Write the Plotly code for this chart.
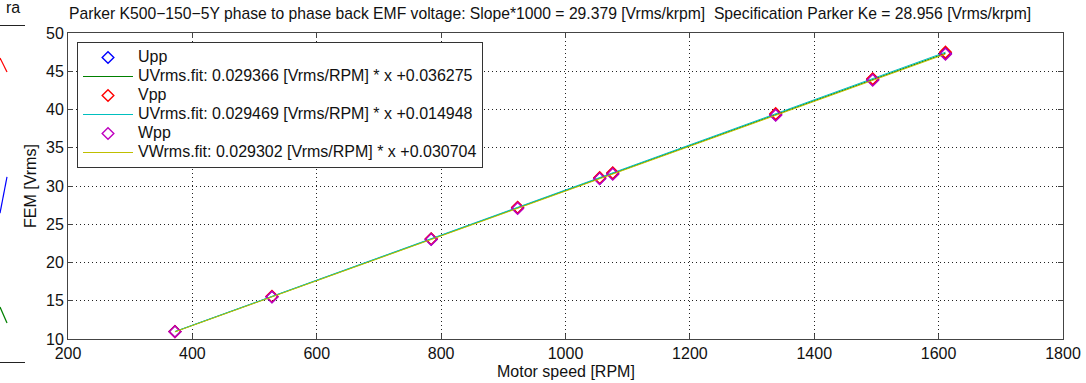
import plotly.graph_objects as go

# Measured operating points (motor speed, RPM)
speed_rpm = [372, 528, 784, 923, 1055, 1076, 1338, 1494, 1611]

# Phase-to-phase back EMF per phase pair [Vrms]
u_vrms = [10.98, 15.52, 23.05, 27.16, 31.00, 31.65, 39.31, 43.93, 47.34]
v_vrms = [10.97, 15.58, 23.10, 27.22, 31.09, 31.73, 39.45, 44.02, 47.50]
w_vrms = [10.95, 15.49, 23.01, 27.07, 30.95, 31.55, 39.25, 43.83, 47.23]

# Linear fit coefficients (slope [Vrms/RPM], offset [Vrms])
fit_names = ["UVrms.fit", "UVrms.fit", "VWrms.fit"]
fit_slopes = [0.029366, 0.029469, 0.029302]
fit_offsets = [0.036275, 0.014948, 0.030704]

# Fragments of the neighbouring panel on the left edge
left_x = [0.0, 0.28]
left_red = [0.905, 0.863]
left_blue = [0.443, 0.551]
left_green = [0.164, 0.116]

W, H = 1086, 383
FONT = "Liberation Sans, Arial, sans-serif"
NARROW = "Liberation Sans Narrow, Arial Narrow, Liberation Sans, sans-serif"

def px(x):
    return x / W

def py(y):
    return 1 - y / H

def legend_label(text):
    # larger glyphs than the legend's base font, keeping the compact row spacing
    return f'<span style="font-size:16px">{text}</span>'

fig = go.Figure()

series = [
    ("Upp", u_vrms, "#0000ff", "#008000"),
    ("Vpp", v_vrms, "#ff0000", "#00bfbf"),
    ("Wpp", w_vrms, "#bf00bf", "#bfbf00"),
]

for (name, vals, mcol, lcol), fname, k, b in zip(series, fit_names, fit_slopes, fit_offsets):
    fig.add_trace(go.Scatter(
        x=speed_rpm, y=vals, mode="markers", name=legend_label(name),
        marker=dict(symbol="diamond-open", size=9, color=mcol, line=dict(width=1.4)),
    ))
    fit_y = [k * s + b for s in speed_rpm]
    fig.add_trace(go.Scatter(
        x=speed_rpm, y=fit_y, mode="lines",
        name=legend_label(f"{fname}: {k:.6f} [Vrms/RPM] * x +{b:.6f}"),
        line=dict(color=lcol, width=1),
    ))

# Left neighbouring panel fragments
for vals, col in [(left_red, "#ff0000"), (left_blue, "#0000ff"), (left_green, "#008000")]:
    fig.add_trace(go.Scatter(
        x=left_x, y=vals, mode="lines", line=dict(color=col, width=1.2),
        xaxis="x2", yaxis="y2", showlegend=False, hoverinfo="skip",
    ))

grid = dict(showgrid=True, gridcolor="#222222", griddash="1px,3px", gridwidth=1,
            zeroline=False, showline=True, linecolor="#444444", linewidth=1,
            mirror="ticks", ticks="inside", ticklen=5, tickcolor="#444444",
            automargin=False,
            tickfont=dict(family=FONT, size=16, color="#111111"))

fig.update_layout(
    width=W, height=H,
    margin=dict(l=0, r=0, t=0, b=0, pad=0, autoexpand=False),
    paper_bgcolor="white", plot_bgcolor="white",
    xaxis=dict(domain=[px(68), px(1063)], range=[200, 1800], dtick=200, tick0=200, **grid),
    yaxis=dict(domain=[py(339), py(33)], range=[10, 50], dtick=5, tick0=10, **grid),
    xaxis2=dict(domain=[0, px(25)], range=[0, 1], showgrid=False, zeroline=False,
                showticklabels=False, ticks="", showline=True, mirror=True,
                linecolor="#222222", linewidth=1, anchor="y2", automargin=False),
    yaxis2=dict(domain=[py(362), py(26)], range=[0, 1], showgrid=False, zeroline=False,
                showticklabels=False, ticks="", showline=False, anchor="x2", automargin=False),
    legend=dict(
        x=px(77), y=py(42), xanchor="left", yanchor="top",
        bgcolor="white", bordercolor="#333333", borderwidth=1,
        font=dict(family=FONT, size=12, color="#111111"),
        itemwidth=50, tracegroupgap=0,
    ),
    showlegend=True,
)

fig.add_annotation(
    text="Parker K500\u2212150\u22125Y phase to phase back EMF voltage: Slope*1000 = 29.379 [Vrms/krpm]\u00a0\u00a0Specification Parker Ke = 28.956 [Vrms/krpm]",
    x=px(550), y=py(14), xref="paper", yref="paper", showarrow=False,
    xanchor="center", yanchor="middle", font=dict(family=NARROW, size=15.7, color="#111111"),
)
fig.add_annotation(
    text="Motor speed [RPM]", x=px(566), y=py(371), xref="paper", yref="paper",
    showarrow=False, xanchor="center", yanchor="middle",
    font=dict(family=FONT, size=16, color="#111111"),
)
fig.add_annotation(
    text="FEM [Vrms]", x=px(30), y=py(186), xref="paper", yref="paper",
    showarrow=False, xanchor="center", yanchor="middle", textangle=-90,
    font=dict(family=FONT, size=16, color="#111111"),
)
fig.add_annotation(
    text="ra", x=px(22), y=py(8), xref="paper", yref="paper",
    showarrow=False, xanchor="right", yanchor="middle",
    font=dict(family=FONT, size=16, color="#111111"),
)

fig.write_html("out.html")
